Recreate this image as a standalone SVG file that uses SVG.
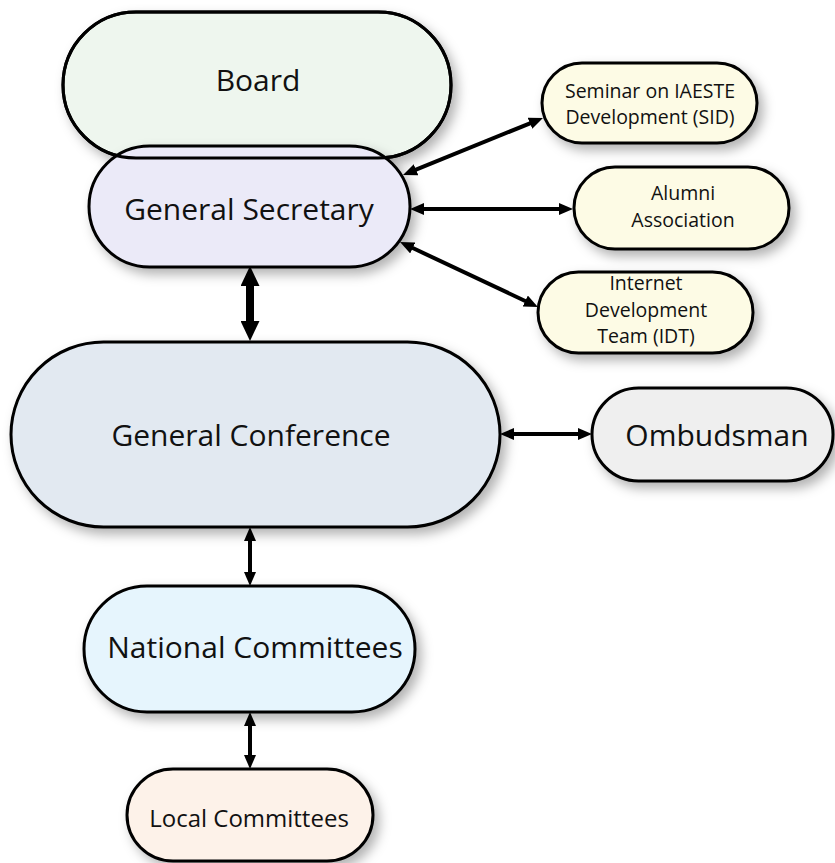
<svg xmlns="http://www.w3.org/2000/svg" xmlns:xlink="http://www.w3.org/1999/xlink" width="835" height="863" viewBox="0 0 835 863">
<style>
.node{stroke:#000;stroke-width:3;}
.sh{filter:url(#shadow);}
.t{font-family:"Open Sans","Noto Sans","Liberation Sans",sans-serif;fill:#111;text-anchor:middle;}
.big{font-size:30px;}
.small{font-size:19.5px;}
.conn line{stroke:#000;stroke-width:4;marker-start:url(#ah);marker-end:url(#ah);}
.conn line.thick{stroke-width:8;marker-start:url(#ahb);marker-end:url(#ahb);}
.outline{fill:none;stroke:#000;stroke-width:3;}
</style>
<defs>
<filter id="shadow" x="-20%" y="-20%" width="150%" height="160%">
<feDropShadow dx="5" dy="6" stdDeviation="6" flood-color="#000" flood-opacity="0.3"/>
</filter>
<marker id="ah" viewBox="0 0 14 12" refX="4" refY="6" markerWidth="14" markerHeight="12" markerUnits="userSpaceOnUse" orient="auto-start-reverse">
<path d="M0,0 L14,6 L0,12 z" fill="#000"/>
</marker>
<marker id="ahb" viewBox="0 0 20 19" refX="6" refY="9.5" markerWidth="20" markerHeight="19" markerUnits="userSpaceOnUse" orient="auto-start-reverse">
<path d="M0,0 L20,9.5 L0,19 z" fill="#000"/>
</marker>
<rect id="board-shape" x="63" y="12" width="388" height="146" rx="73" ry="73"/>
</defs>
<rect width="835" height="863" fill="#fff"/>

<g id="board">
<use xlink:href="#board-shape" class="node sh" fill="#eef6ee"/>
<text class="t big" x="258" y="91">Board</text>
</g>

<g id="general-secretary">
<rect class="node sh" x="89" y="146" width="321" height="121" rx="60.5" ry="60.5" fill="#ebeaf8"/>
<text class="t big" x="249" y="220">General Secretary</text>
</g>
<use xlink:href="#board-shape" class="outline"/>

<g id="sid">
<rect class="node sh" x="542" y="63" width="215" height="80" rx="40" ry="40" fill="#fdfbe5"/>
<text class="t small" x="650" y="97.5">Seminar on IAESTE</text>
<text class="t small" x="650" y="124.1">Development (SID)</text>
</g>

<g id="alumni">
<rect class="node sh" x="574" y="167" width="215" height="82" rx="41" ry="41" fill="#fdfbe5"/>
<text class="t small" x="683" y="200">Alumni</text>
<text class="t small" x="683" y="226.6">Association</text>
</g>

<g id="idt">
<rect class="node sh" x="538" y="272" width="215" height="81" rx="40.5" ry="40.5" fill="#fdfbe5"/>
<text class="t small" x="646" y="290">Internet</text>
<text class="t small" x="646" y="316.6">Development</text>
<text class="t small" x="646" y="343.2">Team (IDT)</text>
</g>

<g id="general-conference">
<rect class="node sh" x="11" y="342" width="489" height="185" rx="92.5" ry="92.5" fill="#e2e9f1"/>
<text class="t big" x="251" y="446">General Conference</text>
</g>

<g id="ombudsman">
<rect class="node sh" x="592" y="388" width="241" height="93" rx="46.5" ry="46.5" fill="#efefef"/>
<text class="t big" x="717" y="446">Ombudsman</text>
</g>

<g id="national-committees">
<rect class="node sh" x="84" y="586" width="331" height="126" rx="63" ry="63" fill="#e6f5fd"/>
<text class="t big" x="255" y="658">National Committees</text>
</g>

<g id="local-committees">
<rect class="node sh" x="127" y="769" width="246" height="92" rx="46" ry="46" fill="#fdf2e9"/>
<text class="t" style="font-size:24px" x="249" y="827">Local Committees</text>
</g>

<g id="connectors" class="conn">
<line x1="412.3" y1="171.2" x2="533.7" y2="121.8"/>
<line x1="420" y1="209" x2="563" y2="209"/>
<line x1="409.1" y1="246.3" x2="528.9" y2="302.7"/>
<line class="thick" x1="250" y1="280" x2="250" y2="327"/>
<line x1="510" y1="434" x2="582" y2="434"/>
<line x1="250" y1="537" x2="250" y2="576"/>
<line x1="250" y1="722" x2="250" y2="759"/>
</g>
</svg>
